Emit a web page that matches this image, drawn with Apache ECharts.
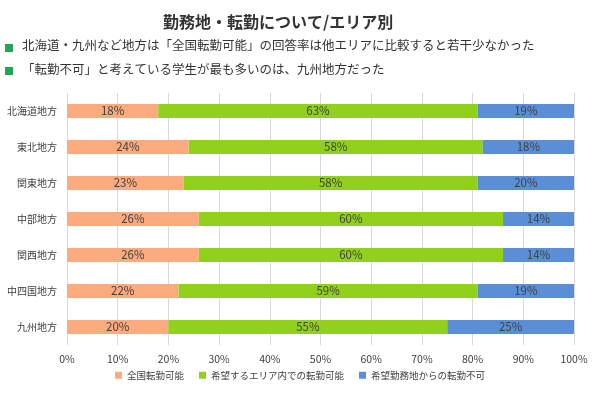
<!DOCTYPE html>
<html>
<head>
<meta charset="utf-8">
<script src="https://cdn.jsdelivr.net/npm/echarts@6/dist/echarts.min.js"></script>
<style>
  html, body { margin: 0; padding: 0; background: #fff; }
  #chart { width: 600px; height: 398px; }
</style>
</head>
<body>
<div id="chart"></div>
<script>
// エリア
var areas = ['北海道地方', '東北地方', '関東地方', '中部地方', '関西地方', '中四国地方', '九州地方'];
// 回答率(%)
var nationwide = [18, 24, 23, 26, 26, 22, 20];
var withinArea = [63, 58, 58, 60, 60, 59, 55];
var noTransfer = [19, 18, 20, 14, 14, 19, 25];
var seriesNames = ['全国転勤可能', '希望するエリア内での転勤可能', '希望勤務地からの転勤不可'];
var colors = ['#FBAB7E', '#92D11B', '#5A8FD8'];

var font = '"Noto Sans CJK JP", sans-serif';
var chart = echarts.init(document.getElementById('chart'));

function makeSeries(name, data, color) {
    return {
        name: name,
        type: 'bar',
        stack: 'total',
        barWidth: 14,
        data: data,
        itemStyle: { color: color },
        label: {
            show: true,
            position: 'inside',
            formatter: '{c}%',
            color: '#404040',
            fontSize: 11.5,
            fontFamily: font
        }
    };
}

var option = {
    animation: false,
    title: {
        text: '勤務地・転勤について/エリア別',
        left: 158,
        top: 9,
        textStyle: { fontSize: 16, fontWeight: 'bold', color: '#333', fontFamily: font }
    },
    graphic: [
        { type: 'rect', left: 5, top: 44, shape: { width: 8, height: 8 }, style: { fill: '#22A654' } },
        { type: 'text', left: 22, top: 39, style: { text: '北海道・九州など地方は「全国転勤可能」の回答率は他エリアに比較すると若干少なかった', fill: '#333', font: '12.5px ' + font } },
        { type: 'rect', left: 5, top: 67, shape: { width: 8, height: 8 }, style: { fill: '#22A654' } },
        { type: 'text', left: 22, top: 63, style: { text: '「転勤不可」と考えている学生が最も多いのは、九州地方だった', fill: '#333', font: '12.5px ' + font } }
    ],
    legend: {
        bottom: 13,
        left: 'center',
        itemWidth: 7,
        itemHeight: 7,
        itemGap: 15,
        icon: 'rect',
        textStyle: { fontSize: 9.5, color: '#404040', fontFamily: font },
        data: seriesNames
    },
    grid: { left: 67, right: 26, top: 93, bottom: 53 },
    xAxis: {
        type: 'value',
        min: 0,
        max: 100,
        interval: 10,
        axisLabel: { formatter: '{value}%', color: '#404040', fontSize: 10.5, fontFamily: font, margin: 9 },
        axisLine: { show: false },
        axisTick: { show: false },
        splitLine: { lineStyle: { color: '#D9D9D9' } }
    },
    yAxis: {
        type: 'category',
        inverse: true,
        data: areas,
        axisLabel: { color: '#404040', fontSize: 10, fontFamily: font, margin: 10 },
        axisLine: { show: false },
        axisTick: { show: false }
    },
    series: [
        makeSeries(seriesNames[0], nationwide, colors[0]),
        makeSeries(seriesNames[1], withinArea, colors[1]),
        makeSeries(seriesNames[2], noTransfer, colors[2])
    ]
};

chart.setOption(option);
</script>
</body>
</html>
